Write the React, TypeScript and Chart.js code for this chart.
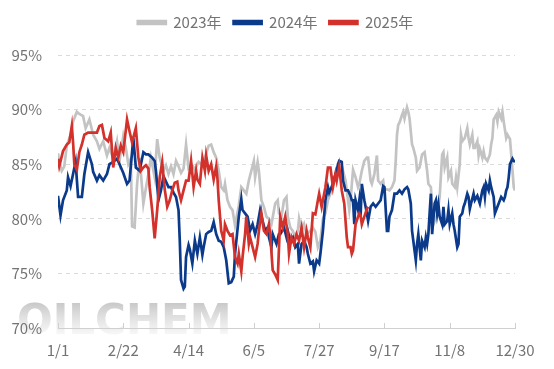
import React, { useEffect, useRef } from "react";
import { Chart, registerables } from "chart.js";

Chart.register(...registerables);

// x positions are day-of-year indices (0 = 1/1, 364 = 12/30)
const xLabels = ["1/1", "2/22", "4/14", "6/5", "7/27", "9/17", "11/8", "12/30"];
const xTickDays = [0, 52, 104, 156, 208, 260, 312, 364];
const yTicks = [70, 75, 80, 85, 90, 95];
const seriesNames = ["2023年", "2024年", "2025年"];

const s2023: [number, number][] = [
  [0, 86.0], [1, 85.2], [3, 84.4], [5, 84.8], [7, 86.7], [10, 87.7], [12, 88.9], [15, 89.8], [17, 89.6],
  [20, 89.4], [22, 88.3], [25, 89.1], [28, 87.7], [31, 87.1], [33, 86.4], [36, 87.1], [39, 85.8], [41, 86.5],
  [44, 85.5], [47, 87.1], [49, 85.3], [52, 87.6], [54, 86.5], [56, 85.0], [58, 85.5], [59, 79.3], [61, 79.2],
  [63, 83.2], [65, 85.6], [68, 81.4], [70, 82.8], [72, 84.1], [74, 85.6], [77, 83.8], [79, 87.3], [81, 85.6],
  [84, 84.4], [86, 84.9], [88, 84.1], [90, 84.8], [92, 84.1], [94, 85.3], [96, 84.8], [98, 84.2], [100, 84.6],
  [102, 86.8], [104, 84.6], [107, 84.9], [109, 84.5], [112, 85.2], [115, 84.9], [117, 85.6], [120, 86.7],
  [122, 86.8], [124, 86.1], [126, 85.6], [128, 84.4], [130, 82.9], [132, 82.6], [133, 83.2], [135, 81.7],
  [137, 81.1], [139, 80.8], [141, 79.4], [144, 81.2], [146, 82.9], [148, 82.6], [150, 82.3], [152, 83.5],
  [154, 84.4], [156, 85.3], [157, 83.8], [159, 85.2], [160, 84.4], [162, 81.7], [164, 81.1], [166, 80.2],
  [168, 80.0], [170, 79.5], [173, 81.4], [175, 81.7], [176, 80.5], [178, 80.2], [180, 81.7], [182, 82.0],
  [183, 80.2], [185, 79.2], [187, 78.9], [189, 78.3], [191, 78.9], [192, 80.0], [194, 78.9], [196, 79.5],
  [198, 78.6], [201, 78.9], [203, 79.2], [205, 78.8], [207, 77.4], [209, 78.0], [211, 80.0], [213, 80.5],
  [215, 81.7], [217, 82.3], [219, 83.2], [221, 84.1], [222, 84.7], [223, 84.7], [225, 83.8], [227, 84.4],
  [229, 83.5], [230, 82.6], [232, 80.8], [233, 81.7], [235, 84.5], [237, 83.8], [239, 82.9], [240, 83.2],
  [242, 84.4], [244, 85.3], [246, 85.6], [247, 85.6], [249, 83.5], [250, 83.2], [252, 84.1], [254, 85.8],
  [255, 83.5], [257, 83.2], [259, 83.5], [260, 82.6], [262, 82.7], [264, 82.6], [266, 82.9], [268, 83.5],
  [269, 85.3], [270, 87.7], [271, 88.6], [272, 88.8], [274, 89.5], [275, 89.8], [276, 89.2], [278, 90.2],
  [279, 89.8], [280, 89.2], [282, 86.8], [283, 86.5], [285, 85.6], [286, 84.4], [288, 84.7], [290, 85.9],
  [292, 86.1], [294, 84.4], [295, 83.2], [297, 82.9], [298, 81.1], [300, 79.8], [302, 80.4], [304, 82.0],
  [306, 85.9], [307, 86.1], [308, 84.7], [310, 85.6], [311, 83.8], [313, 84.4], [314, 83.2], [316, 82.9],
  [317, 83.8], [318, 82.9], [320, 85.0], [321, 87.7], [322, 87.1], [324, 87.4], [326, 88.3], [327, 87.4],
  [328, 86.8], [330, 87.7], [331, 86.5], [332, 86.5], [334, 87.1], [335, 85.8], [336, 86.4], [338, 85.6],
  [339, 86.2], [340, 85.6], [342, 85.3], [344, 85.9], [345, 86.8], [346, 87.4], [347, 89.1], [349, 89.5],
  [350, 88.9], [351, 89.8], [353, 89.2], [354, 89.8], [355, 88.9], [357, 87.4], [358, 87.7], [360, 87.3],
  [361, 85.9], [363, 82.9], [364, 82.6],
];

const s2024: [number, number][] = [
  [0, 82.1], [2, 80.3], [4, 81.7], [7, 82.6], [8, 83.8], [10, 83.0], [12, 84.1], [14, 85.2], [16, 82.0],
  [19, 82.0], [21, 84.1], [24, 86.1], [27, 85.0], [28, 84.3], [31, 83.5], [33, 84.0], [36, 83.5], [39, 84.1],
  [41, 85.0], [44, 85.2], [47, 85.5], [49, 85.0], [52, 84.2], [55, 83.2], [57, 83.5], [60, 87.4], [62, 84.7],
  [65, 84.4], [68, 86.1], [70, 85.9], [72, 85.9], [75, 85.6], [77, 85.3], [78, 84.4], [80, 81.7], [82, 82.6],
  [84, 83.9], [86, 83.4], [88, 82.9], [90, 82.9], [92, 82.4], [94, 82.0], [96, 80.8], [97, 78.0], [98, 74.4],
  [100, 73.6], [101, 73.8], [102, 76.5], [104, 77.6], [105, 77.2], [107, 75.9], [109, 78.0], [111, 76.8],
  [113, 78.3], [115, 76.7], [116, 77.4], [118, 78.6], [120, 78.8], [122, 78.9], [124, 79.7], [126, 78.6],
  [128, 78.0], [130, 77.9], [132, 77.4], [134, 76.2], [136, 74.1], [138, 74.2], [140, 74.7], [141, 76.8],
  [144, 80.2], [146, 81.8], [147, 80.8], [149, 80.5], [151, 80.2], [153, 78.9], [155, 79.5], [157, 78.6],
  [159, 79.5], [161, 80.8], [163, 79.8], [165, 78.9], [167, 79.2], [168, 78.3], [170, 77.4], [171, 78.6],
  [174, 77.7], [176, 78.6], [177, 78.6], [180, 79.2], [182, 78.3], [183, 78.9], [185, 78.0], [187, 78.3],
  [189, 77.4], [191, 77.7], [192, 75.9], [194, 77.7], [196, 78.0], [198, 77.4], [199, 76.8], [201, 75.9],
  [203, 76.1], [204, 75.2], [206, 76.2], [208, 75.9], [209, 76.8], [211, 78.9], [213, 81.7], [215, 82.9],
  [216, 82.4], [219, 83.2], [221, 84.1], [222, 84.4], [223, 85.0], [224, 85.3], [226, 85.2], [227, 83.5],
  [229, 82.6], [231, 82.6], [233, 82.1], [234, 81.7], [235, 81.7], [236, 79.5], [237, 81.7], [239, 80.8],
  [240, 81.7], [241, 80.2], [242, 83.2], [244, 81.7], [246, 80.5], [247, 79.8], [249, 81.1], [251, 81.4],
  [253, 81.1], [255, 81.4], [257, 81.7], [259, 83.0], [260, 82.9], [262, 78.9], [263, 78.9], [264, 80.2],
  [266, 80.8], [268, 82.3], [270, 82.3], [272, 82.6], [274, 82.3], [276, 82.7], [278, 82.9], [279, 82.7],
  [281, 81.4], [282, 78.9], [284, 77.1], [285, 76.2], [286, 77.7], [287, 78.6], [289, 76.2], [290, 78.0],
  [292, 77.4], [293, 78.3], [294, 77.7], [295, 78.6], [296, 80.5], [297, 82.3], [298, 78.6], [300, 81.4],
  [301, 81.7], [302, 80.5], [303, 81.3], [304, 80.2], [306, 79.5], [307, 81.1], [308, 79.5], [310, 79.8],
  [311, 80.8], [312, 79.5], [314, 80.5], [315, 79.5], [316, 78.9], [318, 77.4], [319, 77.7], [320, 80.2],
  [322, 80.5], [323, 81.1], [324, 81.4], [326, 82.3], [327, 82.0], [328, 80.9], [329, 81.4], [331, 82.3],
  [332, 81.7], [334, 82.1], [336, 81.4], [338, 82.6], [339, 82.9], [340, 82.0], [341, 83.2], [343, 82.6],
  [344, 83.5], [345, 82.9], [347, 82.0], [348, 80.5], [349, 80.8], [351, 81.4], [352, 81.7], [353, 82.0],
  [355, 81.7], [356, 82.0], [357, 82.6], [358, 82.9], [359, 83.8], [360, 85.0], [362, 85.5], [363, 85.3],
  [364, 85.2],
];

const s2025: [number, number][] = [
  [0, 85.5], [1, 84.8], [4, 86.2], [7, 86.8], [9, 87.0], [11, 88.5], [12, 87.0], [13, 85.0], [15, 84.5],
  [17, 86.1], [19, 86.8], [21, 87.7], [24, 87.9], [27, 87.9], [31, 87.9], [33, 88.5], [35, 88.6], [37, 87.4],
  [40, 87.1], [42, 87.9], [44, 84.7], [46, 86.5], [48, 85.6], [50, 86.7], [52, 86.1], [55, 89.1], [57, 88.0],
  [59, 87.0], [62, 88.3], [64, 85.6], [66, 84.4], [68, 84.7], [70, 84.9], [72, 84.6], [73, 82.9], [75, 80.8],
  [77, 78.2], [79, 80.8], [81, 83.8], [83, 85.2], [85, 82.7], [87, 81.1], [89, 81.7], [91, 82.6], [93, 83.3],
  [95, 83.4], [96, 82.6], [98, 81.7], [100, 82.6], [102, 83.5], [104, 83.5], [106, 85.3], [108, 82.9],
  [110, 84.4], [111, 83.6], [113, 83.2], [115, 85.6], [117, 84.4], [118, 85.8], [120, 84.4], [122, 85.0],
  [124, 83.6], [126, 84.8], [127, 83.7], [128, 81.7], [130, 78.9], [132, 78.0], [133, 79.5], [135, 78.9],
  [137, 78.5], [139, 78.6], [141, 76.5], [143, 75.9], [144, 76.8], [146, 75.2], [147, 76.5], [149, 78.6],
  [150, 80.2], [152, 77.7], [153, 78.3], [155, 77.4], [157, 76.5], [159, 77.7], [160, 78.9], [162, 80.5],
  [164, 78.9], [166, 78.6], [168, 79.5], [169, 78.6], [171, 75.3], [173, 74.9], [175, 74.4], [177, 80.2],
  [179, 79.2], [181, 80.2], [183, 78.6], [184, 76.8], [186, 78.3], [188, 77.7], [190, 78.6], [192, 78.0],
  [194, 79.2], [196, 77.4], [198, 78.9], [199, 78.3], [201, 77.4], [203, 80.5], [205, 80.4], [207, 81.7],
  [208, 82.3], [210, 81.1], [211, 81.7], [213, 82.9], [215, 84.7], [217, 84.7], [219, 82.9], [221, 84.1],
  [222, 83.5], [224, 84.8], [226, 82.6], [228, 81.4], [230, 78.3], [231, 77.4], [233, 77.4], [234, 76.8],
  [235, 77.1], [237, 79.5], [239, 80.2], [240, 80.5], [241, 80.3], [242, 79.5], [244, 80.2], [246, 80.9],
  [247, 81.1],
];

const colors = ["#c3c3c3", "#0b3a8a", "#d3312b"];
const FONT = '"Microsoft YaHei", "Noto Sans CJK SC", sans-serif';

const watermark = {
  id: "watermark",
  beforeDraw(chart: any) {
    const ctx = chart.ctx;
    ctx.save();
    ctx.font = 'bold 42px "DejaVu Sans", sans-serif';
    ctx.textBaseline = "alphabetic";
    const g = ctx.createLinearGradient(0, 302, 0, 336);
    g.addColorStop(0, "rgba(185,185,185,0.8)");
    g.addColorStop(1, "rgba(245,245,245,0.6)");
    ctx.fillStyle = g;
    ctx.fillText("OILCHEM", 17, 334);
    ctx.restore();
  },
};

const innerTicks = {
  id: "innerTicks",
  afterDraw(chart: any) {
    const x = chart.scales.x;
    const bottom = chart.chartArea.bottom;
    const ctx = chart.ctx;
    ctx.save();
    ctx.strokeStyle = "#cfcfcf";
    ctx.lineWidth = 1;
    xTickDays.forEach((d) => {
      const px = Math.round(x.getPixelForValue(d)) + 0.5;
      ctx.beginPath();
      ctx.moveTo(px, bottom);
      ctx.lineTo(px, bottom - 5);
      ctx.stroke();
    });
    ctx.restore();
  },
};

const legendSpacer = {
  id: "legendSpacer",
  beforeInit(chart: any) {
    const legend = chart.legend;
    if (!legend) return;
    const orig = legend.fit;
    legend.fit = function () {
      orig.call(this);
      this.height = 52;
    };
  },
  afterLayout(chart: any) {
    if (chart.legend) chart.legend.left = 36;
  },
};

export default function App() {
  const ref = useRef<HTMLCanvasElement | null>(null);
  useEffect(() => {
    if (!ref.current) return;
    const series = [s2023, s2024, s2025];
    const chart = new Chart(ref.current, {
      type: "line",
      data: {
        datasets: series.map((s, i) => ({
          label: seriesNames[i],
          data: s.map(([d, v]) => ({ x: d, y: v })),
          borderColor: colors[i],
          backgroundColor: colors[i],
          borderWidth: 2.7,
          pointRadius: 0,
          tension: 0,
          order: 3 - i,
        })),
      },
      options: {
        responsive: false,
        animation: false,
        layout: { padding: { left: 0, right: 39, top: 3, bottom: 0 } },
        plugins: {
          tooltip: { enabled: false },
          legend: {
            position: "top",
            labels: {
              boxWidth: 28,
              boxHeight: 3,
              padding: 12,
              color: "#737373",
              font: { family: FONT, size: 15 },
              sort: (a: any, b: any) => a.datasetIndex - b.datasetIndex,
            },
          },
        },
        scales: {
          x: {
            type: "linear",
            min: 0,
            max: 364,
            afterBuildTicks: (s: any) => {
              s.ticks = xTickDays.map((v) => ({ value: v }));
            },
            afterFit: (s: any) => {
              s.height = 41;
            },
            ticks: {
              autoSkip: false,
              maxRotation: 0,
              padding: 13,
              color: "#737373",
              font: { family: FONT, size: 15 },
              callback: (v: any) => {
                const i = xTickDays.indexOf(Number(v));
                return i >= 0 ? xLabels[i] : "";
              },
            },
            grid: { display: false, drawTicks: false },
            border: { display: true, color: "#d0d0d0", width: 1 },
          },
          y: {
            min: 70,
            max: 95,
            afterBuildTicks: (s: any) => {
              s.ticks = yTicks.map((v) => ({ value: v }));
            },
            afterFit: (s: any) => {
              s.width = 58;
            },
            ticks: {
              padding: 16,
              color: "#737373",
              font: { family: FONT, size: 15 },
              callback: (v: any) => v + "%",
            },
            grid: { color: "#dadada", drawTicks: false, lineWidth: 1 },
            border: { display: false, dash: [4, 4] },
          },
        },
      },
      plugins: [watermark, innerTicks, legendSpacer],
    } as any);
    return () => chart.destroy();
  }, []);
  return (
    <div style={{ position: "fixed", left: 0, top: 0, width: 554, height: 369, background: "#fff" }}>
      <canvas ref={ref} width={554} height={369} style={{ width: 554, height: 369 }} />
    </div>
  );
}
